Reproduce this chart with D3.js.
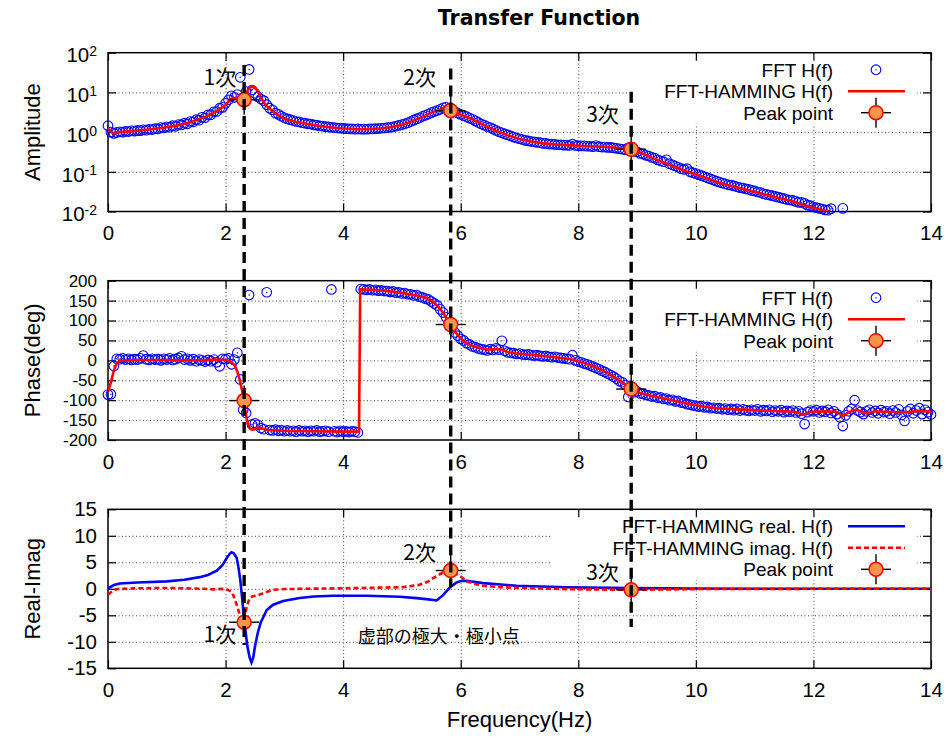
<!DOCTYPE html>
<html>
<head>
<meta charset="utf-8">
<script src="https://cdn.jsdelivr.net/npm/d3@7"></script>
<style>
body { margin: 0; background: #fff; }
</style>
</head>
<body>
<div id="chart"></div>
<script>
// frequency step of the FFT bins (circles), Hz
var df = 0.05;

var xTicks = [0, 2, 4, 6, 8, 10, 12, 14];
var ampTicks = [0.01, 0.1, 1, 10, 100];
var phaseTicks = [-200, -150, -100, -50, 0, 50, 100, 150, 200];
var riTicks = [-15, -10, -5, 0, 5, 10, 15];

// FFT H(f) amplitude, one value per bin (f = i * df)
var ampFFT = [
  1.45, 1.0, 0.93, 0.98, 1.02, 1.0, 1.05, 1.03, 1.08, 1.06,
  1.1, 1.09, 1.14, 1.12, 1.18, 1.16, 1.22, 1.2, 1.3, 1.27,
  1.36, 1.33, 1.45, 1.4, 1.55, 1.52, 1.68, 1.62, 1.85, 1.82,
  2.05, 2.0, 2.35, 2.3, 2.7, 2.75, 3.25, 3.3, 4.0, 4.2,
  5.3, 6.5, 8.2, 7.5, 8.8, 24, 7.5, 10.5, 38, 11.5,
  9.5, 7.8, 6.8, 6.2, 4.9, 4.0, 3.6, 3.0, 2.8, 2.5,
  2.3, 2.15, 2.05, 1.95, 1.85, 1.8, 1.72, 1.68, 1.62, 1.6,
  1.52, 1.5, 1.43, 1.42, 1.37, 1.35, 1.31, 1.3, 1.27, 1.26,
  1.24, 1.22, 1.21, 1.2, 1.19, 1.2, 1.18, 1.19, 1.18, 1.2,
  1.2, 1.22, 1.23, 1.25, 1.27, 1.3, 1.32, 1.36, 1.42, 1.47,
  1.55, 1.62, 1.72, 1.85, 2.0, 2.15, 2.3, 2.5, 2.65, 2.85,
  3.1, 3.3, 3.5, 3.75, 4.1, 4.2, 3.9, 3.5, 3.3, 3.0,
  2.8, 2.6, 2.45, 2.25, 2.1, 1.92, 1.75, 1.6, 1.5, 1.38,
  1.3, 1.2, 1.1, 1.02, 0.96, 0.9, 0.85, 0.8, 0.75, 0.71,
  0.68, 0.65, 0.62, 0.6, 0.58, 0.57, 0.55, 0.54, 0.52, 0.52,
  0.5, 0.5, 0.49, 0.48, 0.48, 0.47, 0.47, 0.46, 0.5, 0.46,
  0.455, 0.45, 0.45, 0.44, 0.44, 0.43, 0.46, 0.43, 0.42, 0.42,
  0.41, 0.41, 0.4, 0.39, 0.38, 0.37, 0.36, 0.4, 0.34, 0.33,
  0.32, 0.29, 0.28, 0.26, 0.25, 0.23, 0.22, 0.2, 0.19, 0.18,
  0.2, 0.16, 0.15, 0.14, 0.13, 0.12, 0.115, 0.12, 0.1, 0.095,
  0.09, 0.085, 0.08, 0.075, 0.07, 0.066, 0.062, 0.058, 0.055, 0.052,
  0.05, 0.047, 0.046, 0.044, 0.042, 0.04, 0.039, 0.037, 0.036, 0.034,
  0.033, 0.031, 0.03, 0.028, 0.027, 0.026, 0.025, 0.024, 0.023, 0.022,
  0.021, 0.02, 0.0195, 0.019, 0.018, 0.017, 0.017, 0.016, 0.0145, 0.014,
  0.013, 0.0125, 0.012, 0.0115, 0.011, 0.0108, 0.0118, 0.0095, 0.0092, 0.0096,
  0.012
];

// FFT H(f) phase in degrees, one value per bin (f = i * df)
var phaseFFT = [
  -86, -85, -14, 4, 3, 5, 2, 4, 1, 3,
  2, 5, 12, 3, 1, 4, 2, 3, 0, 4,
  2, 5, 1, 3, 6, 10, 2, 4, 0, 3,
  -2, 2, 0, -3, 1, -2, 2, -5, -15, 4,
  3, 5, -10, 2, 19, -48, -124, -132, 164, -161,
  -158, -162, -170, -173, 171, -175, -176, -174, -177, -175,
  -178, -176, -178, -177, -179, -176, -178, -177, -179, -177,
  -178, -176, -179, -178, -177, -179, 178, -178, -180, -177,
  -179, -178, -180, -178, -179, -181, 179, 178, 177, 178,
  176, 177, 175, 176, 174, 174, 172, 173, 170, 171,
  168, 169, 166, 166, 163, 164, 160, 158, 155, 153,
  148, 143, 138, 128, 120, 108, 95, 83, 70, 62,
  54, 50, 43, 40, 35, 33, 30, 28, 27, 25,
  28, 26, 30, 27, 49, 24, 20, 19, 18, 16,
  17, 15, 14, 15, 13, 12, 13, 11, 10, 11,
  9, 8, 9, 7, 6, 5, 4, 3, 13, 0,
  -3, -5, -8, -10, -13, -16, -19, -22, -26, -29,
  -33, -37, -41, -46, -52, -55, -62, -92, -76, -80,
  -78, -83, -84, -87, -88, -91, -90, -94, -93, -97,
  -96, -100, -99, -103, -102, -106, -107, -110, -111, -113,
  -114, -116, -115, -118, -117, -120, -119, -121, -120, -123,
  -121, -124, -122, -125, -122, -126, -123, -125, -127, -124,
  -126, -123, -128, -125, -127, -124, -129, -126, -128, -125,
  -130, -127, -129, -126, -131, -128, -134, -160, -130, -126,
  -128, -125, -131, -127, -129, -124, -132, -128, -135, -143,
  -165, -138, -128, -122, -100, -126, -130, -135, -128, -124,
  -131, -127, -133, -125, -130, -128, -134, -126, -131, -123,
  -137, -152, -128, -122, -133, -126, -120, -135, -124, -130,
  -136
];

// FFT-HAMMING H(f) amplitude [f, value]
var ampHam = [
  [0, 1.22], [0.1, 0.92], [0.2, 1.0], [0.3, 1.03], [0.4, 1.06], [0.5, 1.09], [0.6, 1.12],
  [0.7, 1.16], [0.8, 1.21], [0.9, 1.27], [1.0, 1.33], [1.1, 1.41], [1.2, 1.5], [1.3, 1.62],
  [1.4, 1.78], [1.5, 1.98], [1.6, 2.25], [1.7, 2.6], [1.8, 3.1], [1.9, 3.8], [2.0, 4.8],
  [2.05, 6.0], [2.1, 6.9], [2.15, 7.2], [2.2, 7.2], [2.3, 7.0], [2.35, 9.0], [2.4, 13.0],
  [2.45, 14.0], [2.5, 13.2], [2.55, 10.5], [2.6, 7.5], [2.65, 5.6], [2.7, 4.5], [2.8, 3.4],
  [2.9, 2.65], [3.0, 2.15], [3.2, 1.8], [3.4, 1.6], [3.6, 1.42], [3.8, 1.3], [4.0, 1.23],
  [4.2, 1.19], [4.4, 1.18], [4.6, 1.22], [4.8, 1.32], [5.0, 1.52], [5.2, 1.95], [5.4, 2.6],
  [5.5, 3.1], [5.6, 3.5], [5.7, 3.9], [5.8, 3.7], [5.85, 3.45], [5.9, 3.2], [6.0, 2.75],
  [6.2, 2.1], [6.4, 1.48], [6.6, 1.08], [6.8, 0.83], [7.0, 0.67], [7.2, 0.58], [7.4, 0.52],
  [7.6, 0.49], [7.8, 0.47], [8.0, 0.455], [8.2, 0.44], [8.4, 0.43], [8.6, 0.41], [8.8, 0.38],
  [8.9, 0.36], [9.0, 0.33], [9.2, 0.245], [9.4, 0.185], [9.6, 0.14], [9.8, 0.108], [10.0, 0.086],
  [10.2, 0.068], [10.4, 0.052], [10.6, 0.044], [10.8, 0.037], [11.0, 0.031], [11.2, 0.026],
  [11.4, 0.022], [11.6, 0.019], [11.8, 0.015], [12.0, 0.0125], [12.2, 0.0105], [12.27, 0.0099]
];

// FFT-HAMMING H(f) phase [f, deg]
var phaseHam = [
  [0, -79], [0.05, -55], [0.1, -25], [0.15, -7], [0.2, -1], [0.3, 0], [0.6, 1], [1.0, 1],
  [1.3, 0], [1.6, 0], [1.8, 2], [2.0, 1], [2.07, -2], [2.12, -8], [2.16, -14], [2.2, -28],
  [2.24, -49], [2.28, -75], [2.316, -101], [2.34, -130], [2.37, -155], [2.41, -170], [2.45, -174],
  [2.5, -173], [2.56, -168], [2.62, -171], [2.72, -175], [3.0, -177], [3.5, -178], [4.0, -179],
  [4.27, -179], [4.29, 178], [4.5, 177], [4.7, 175], [4.97, 170], [5.25, 163], [5.4, 157],
  [5.53, 147], [5.62, 135], [5.71, 118], [5.82, 90], [5.9, 72], [6.0, 55], [6.12, 42],
  [6.24, 34], [6.46, 27], [6.6, 28], [6.69, 28], [6.8, 21], [6.92, 18], [7.26, 13], [7.54, 9],
  [7.88, 3], [8.1, -7], [8.25, -15], [8.39, -24], [8.55, -36], [8.68, -49], [8.8, -61],
  [8.9, -72], [9.05, -82], [9.24, -89], [9.4, -94], [9.56, -99], [9.7, -104], [9.84, -108],
  [10.12, -116], [10.41, -121], [10.7, -123], [10.98, -125], [11.3, -127], [11.54, -128],
  [11.7, -130], [11.83, -137], [11.95, -129], [12.2, -128], [12.39, -129], [12.5, -140],
  [12.6, -130], [12.73, -124], [12.9, -133], [13.05, -128], [13.24, -129], [13.52, -131],
  [13.8, -127], [14.0, -129]
];

// FFT-HAMMING real. H(f) [f, value]
var realHam = [
  [0, 0.1], [0.1, 0.7], [0.2, 1.0], [0.5, 1.2], [1.0, 1.4], [1.3, 1.7], [1.56, 2.2], [1.7, 2.6],
  [1.85, 3.4], [1.95, 4.5], [2.02, 5.8], [2.07, 6.6], [2.1, 6.9], [2.14, 6.7], [2.19, 5.8],
  [2.22, 4.0], [2.25, 1.7], [2.28, -1.5], [2.31, -5.2], [2.34, -8.0], [2.37, -10.8], [2.41, -13.0],
  [2.44, -13.9], [2.47, -13.0], [2.5, -10.9], [2.55, -8.2], [2.6, -6.3], [2.7, -4.0], [2.81, -3.0],
  [2.98, -2.3], [3.26, -1.75], [3.5, -1.45], [3.83, -1.32], [4.4, -1.32], [4.96, -1.5],
  [5.25, -1.76], [5.45, -2.0], [5.59, -2.2], [5.7, -1.2], [5.82, 0.3], [5.93, 1.2], [6.02, 1.5],
  [6.1, 1.5], [6.38, 1.07], [6.95, 0.57], [7.8, 0.3], [8.9, 0.12], [10, 0.05], [12, 0], [14, 0]
];

// FFT-HAMMING imag. H(f) [f, value]
var imagHam = [
  [0, -1.1], [0.07, -0.5], [0.15, -0.06], [0.5, 0.1], [1.0, 0.15], [1.5, 0.05], [1.8, -0.1],
  [2.0, 0.0], [2.09, -0.5], [2.13, -1.2], [2.17, -2.4], [2.21, -3.7], [2.24, -4.9], [2.3, -6.2],
  [2.33, -5.2], [2.36, -3.3], [2.41, -1.76], [2.46, -1.4], [2.53, -1.3], [2.6, -1.0], [2.7, -0.6],
  [2.8, -0.2], [3.0, -0.05], [4.0, 0.1], [4.5, 0.2], [5.0, 0.3], [5.3, 0.75], [5.45, 1.4],
  [5.53, 2.0], [5.65, 2.8], [5.75, 3.3], [5.82, 3.45], [5.9, 3.0], [6.0, 2.3], [6.1, 1.4],
  [6.25, 0.9], [6.38, 0.57], [6.7, 0.3], [7.0, 0.15], [7.8, -0.06], [8.9, -0.2], [10, -0.05],
  [12, 0], [14, 0]
];

// peak points (1st, 2nd, 3rd mode)
var peakF = [2.316, 5.83, 8.9];
var peakAmp = [6.5, 3.46, 0.37];
var peakPhase = [-101, 90, -72];
var peakRI = [-6.3, 3.45, -0.2];

// dashed guides: from amplitude value (top panel) down to real-imag value (bottom panel)
var guideTop = [49, 40, 10.4];
var guideBottom = [-10.6, 0.3, -7.2];

// mode labels
var modeText = ["1次", "2次", "3次"];
var ampLabelF = [2.18, 5.58, 8.69];
var ampLabelV = [15.3, 15.3, 1.8];
var riLabelF = [2.18, 5.58, 8.69];
var riLabelV = [-10, 5.5, 1.7];
var noteText = "虚部の極大・極小点";
var noteF = 4.25, noteV = -10.2;

var w = 948, h = 738;
var left = 108, right = 931;
var font = "'Liberation Sans', Arial, Helvetica, sans-serif";
var cjk = "'Noto Sans CJK JP', 'Noto Sans', sans-serif";
var orange = "#f7964a";

var svg = d3.select("#chart").append("svg")
    .attr("width", w)
    .attr("height", h)
    .style("background", "#fff");

var x = d3.scaleLinear().domain([0, 14]).range([left, right]);

var panels = [
    { top: 52.7, bottom: 211.5, y: d3.scaleLog().domain([0.01, 100]), ticks: ampTicks,
      title: "Amplitude", keyLeft: 627, tickFont: 20.5 },
    { top: 280.7, bottom: 440, y: d3.scaleLinear().domain([-200, 200]), ticks: phaseTicks,
      title: "Phase(deg)", keyLeft: 627, tickFont: 17 },
    { top: 509.3, bottom: 668.3, y: d3.scaleLinear().domain([-15, 15]), ticks: riTicks,
      title: "Real-Imag", keyLeft: 552, tickFont: 20.5 }
];
panels.forEach(function (p, i) {
    p.y.range([p.bottom, p.top]);
    svg.append("clipPath").attr("id", "clip" + i)
        .append("rect")
        .attr("x", left).attr("y", p.top)
        .attr("width", right - left).attr("height", p.bottom - p.top);
});

function drawFrame(p, i) {
    var g = svg.append("g");

    // grid
    var gx = g.append("g").attr("transform", "translate(0," + p.bottom + ")")
        .call(d3.axisBottom(x).tickValues(xTicks.slice(1, -1)).tickSize(-(p.bottom - p.top)).tickFormat(""));
    var gy = g.append("g").attr("transform", "translate(" + left + ",0)")
        .call(d3.axisLeft(p.y).tickValues(p.ticks.slice(1, -1)).tickSize(-(right - left)).tickFormat(""));
    [gx, gy].forEach(function (a) {
        a.select(".domain").remove();
        a.selectAll("line").attr("stroke", "#444").attr("stroke-width", 1).attr("stroke-dasharray", "1,2.5");
    });

    // opaque key box
    g.append("rect")
        .attr("x", p.keyLeft).attr("y", p.top + 1)
        .attr("width", 917 - p.keyLeft).attr("height", 70)
        .attr("fill", "#fff");

    // ticks, mirrored inside on all four sides
    var ab = g.append("g").attr("transform", "translate(0," + p.bottom + ")")
        .call(d3.axisBottom(x).tickValues(xTicks).tickSize(-8).tickPadding(14).tickFormat(function (d) { return String(d); }));
    var at = g.append("g").attr("transform", "translate(0," + p.top + ")")
        .call(d3.axisTop(x).tickValues(xTicks).tickSize(-8).tickFormat(""));
    var al = g.append("g").attr("transform", "translate(" + left + ",0)")
        .call(d3.axisLeft(p.y).tickValues(p.ticks).tickSize(-8).tickPadding(11)
            .tickFormat(function (d) { return i === 0 ? "10" : String(d); }));
    var ar = g.append("g").attr("transform", "translate(" + right + ",0)")
        .call(d3.axisRight(p.y).tickValues(p.ticks).tickSize(-8).tickFormat(""));
    [ab, at, al, ar].forEach(function (a) {
        a.select(".domain").remove();
        a.selectAll("line").attr("stroke", "#000").attr("stroke-width", 1.2);
        a.selectAll("text").attr("font-family", font).attr("font-size", 20.5).attr("fill", "#000");
    });
    al.selectAll("text").attr("font-size", p.tickFont);
    if (i === 0) {
        al.selectAll("text").append("tspan")
            .attr("dy", "-0.45em")
            .attr("font-size", 14)
            .text(function (d) { return String(Math.round(Math.log10(d))); });
        al.selectAll("text").attr("dy", "0.45em");
    }

    g.append("rect")
        .attr("x", left).attr("y", p.top)
        .attr("width", right - left).attr("height", p.bottom - p.top)
        .attr("fill", "none").attr("stroke", "#000").attr("stroke-width", 1.5);

    g.append("text")
        .attr("transform", "translate(32," + ((p.top + p.bottom) / 2) + ") rotate(-90)")
        .attr("text-anchor", "middle")
        .attr("dy", "0.35em")
        .attr("font-family", font).attr("font-size", 22)
        .text(p.title);
}

function drawCircles(p, values) {
    var pts = values.map(function (v, i) { return [i * df, v]; })
        .filter(function (d) { return d[1] >= p.y.domain()[0] && d[1] <= p.y.domain()[1]; });
    var g = svg.append("g");
    g.selectAll("circle.o")
        .data(pts)
        .enter()
        .append("circle")
        .attr("cx", function (d) { return x(d[0]); })
        .attr("cy", function (d) { return p.y(d[1]); })
        .attr("r", 4.8)
        .attr("fill", "none")
        .attr("stroke", "#0000ff")
        .attr("stroke-width", 1.1);
    g.selectAll("circle.c")
        .data(pts)
        .enter()
        .append("circle")
        .attr("cx", function (d) { return x(d[0]); })
        .attr("cy", function (d) { return p.y(d[1]); })
        .attr("r", 0.7)
        .attr("fill", "#0000ff");
}

function drawLine(p, i, data, color, dash) {
    var line = d3.line()
        .x(function (d) { return x(d[0]); })
        .y(function (d) { return p.y(d[1]); });
    svg.append("path")
        .datum(data)
        .attr("clip-path", "url(#clip" + i + ")")
        .attr("d", line)
        .attr("fill", "none")
        .attr("stroke", color)
        .attr("stroke-width", 2.6)
        .attr("stroke-dasharray", dash || null);
}

function peakMark(g, cx, cy) {
    g.append("line").attr("x1", cx - 15).attr("x2", cx + 15).attr("y1", cy).attr("y2", cy)
        .attr("stroke", "#000").attr("stroke-width", 1.4);
    g.append("line").attr("x1", cx).attr("x2", cx).attr("y1", cy - 15).attr("y2", cy + 15)
        .attr("stroke", "#000").attr("stroke-width", 1.4);
    g.append("circle").attr("cx", cx).attr("cy", cy).attr("r", 7)
        .attr("fill", orange).attr("stroke", "#ff0000").attr("stroke-width", 1.5);
}

function drawPeaks(p, values) {
    var g = svg.append("g");
    peakF.forEach(function (f, k) {
        peakMark(g, x(f), p.y(values[k]));
    });
}

function drawKey(p, entries) {
    var g = svg.append("g");
    entries.forEach(function (e, k) {
        var cy = p.top + 17 + k * 21.5;
        g.append("text")
            .attr("x", 833).attr("y", cy)
            .attr("dy", "0.36em")
            .attr("text-anchor", "end")
            .attr("font-family", font).attr("font-size", 19)
            .text(e.label);
        if (e.type === "circle") {
            g.append("circle").attr("cx", 876).attr("cy", cy).attr("r", 4.8)
                .attr("fill", "none").attr("stroke", "#0000ff").attr("stroke-width", 1.1);
            g.append("circle").attr("cx", 876).attr("cy", cy).attr("r", 0.7).attr("fill", "#0000ff");
        } else if (e.type === "line") {
            g.append("line").attr("x1", 848).attr("x2", 905).attr("y1", cy).attr("y2", cy)
                .attr("stroke", e.color).attr("stroke-width", 2.6)
                .attr("stroke-dasharray", e.dash || null);
        } else {
            peakMark(g, 876, cy);
        }
    });
}

panels.forEach(drawFrame);

// amplitude
drawCircles(panels[0], ampFFT);
drawLine(panels[0], 0, ampHam, "#ff0000");
drawPeaks(panels[0], peakAmp);
drawKey(panels[0], [
    { label: "FFT H(f)", type: "circle" },
    { label: "FFT-HAMMING H(f)", type: "line", color: "#ff0000" },
    { label: "Peak point", type: "peak" }
]);

// phase
drawCircles(panels[1], phaseFFT);
drawLine(panels[1], 1, phaseHam, "#ff0000");
drawPeaks(panels[1], peakPhase);
drawKey(panels[1], [
    { label: "FFT H(f)", type: "circle" },
    { label: "FFT-HAMMING H(f)", type: "line", color: "#ff0000" },
    { label: "Peak point", type: "peak" }
]);

// real / imag
drawLine(panels[2], 2, realHam, "#0000ff");
drawLine(panels[2], 2, imagHam, "#ff0000", "5,3");
drawPeaks(panels[2], peakRI);
drawKey(panels[2], [
    { label: "FFT-HAMMING real. H(f)", type: "line", color: "#0000ff" },
    { label: "FFT-HAMMING imag. H(f)", type: "line", color: "#ff0000", dash: "5,3" },
    { label: "Peak point", type: "peak" }
]);

// dashed guide lines across the panels
svg.append("g").selectAll("line")
    .data(peakF)
    .enter()
    .append("line")
    .attr("x1", function (d) { return x(d); })
    .attr("x2", function (d) { return x(d); })
    .attr("y1", function (d, k) { return panels[0].y(guideTop[k]); })
    .attr("y2", function (d, k) { return panels[2].y(guideBottom[k]); })
    .attr("stroke", "#000")
    .attr("stroke-width", 3.4)
    .attr("stroke-dasharray", "11,6");

// mode labels
var lab = svg.append("g").attr("font-family", cjk).attr("font-size", 21).attr("text-anchor", "end");
modeText.forEach(function (t, k) {
    lab.append("text").attr("x", x(ampLabelF[k])).attr("y", panels[0].y(ampLabelV[k])).text(t);
    lab.append("text").attr("x", x(riLabelF[k])).attr("y", panels[2].y(riLabelV[k])).text(t);
});
svg.append("text")
    .attr("x", x(noteF)).attr("y", panels[2].y(noteV))
    .attr("font-family", cjk).attr("font-size", 18)
    .text(noteText);

// titles
svg.append("text")
    .attr("x", 539).attr("y", 25)
    .attr("text-anchor", "middle")
    .attr("font-family", "'DejaVu Sans', sans-serif")
    .attr("font-weight", "bold")
    .attr("font-size", 20.5)
    .text("Transfer Function");

svg.append("text")
    .attr("x", (left + right) / 2).attr("y", 727)
    .attr("text-anchor", "middle")
    .attr("font-family", font).attr("font-size", 22)
    .text("Frequency(Hz)");
</script>
</body>
</html>
